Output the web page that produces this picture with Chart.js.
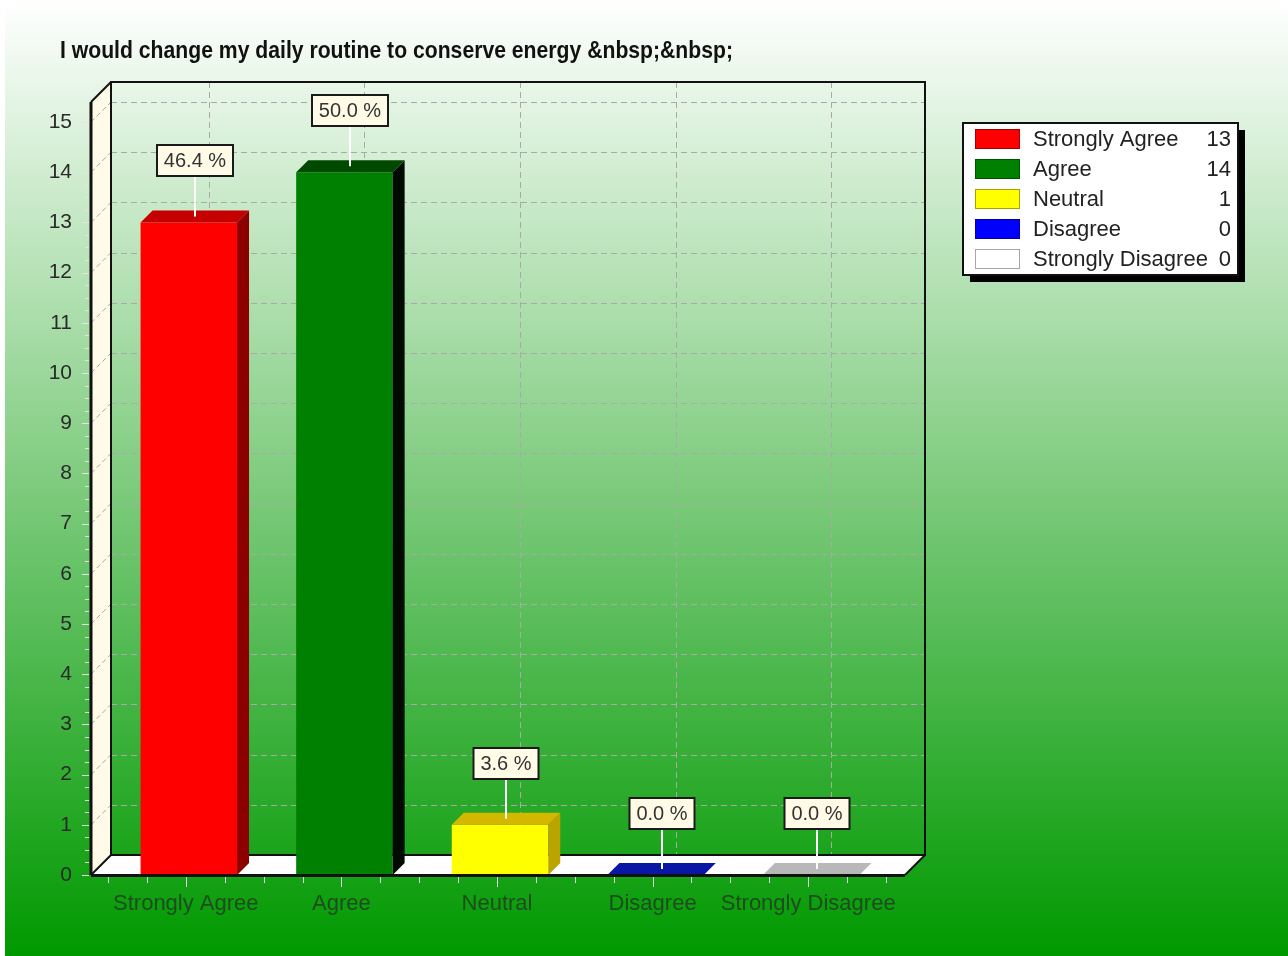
<!DOCTYPE html>
<html>
<head>
<meta charset="utf-8">
<title>Daily routine survey</title>
<script src="https://cdn.jsdelivr.net/npm/chart.js@4.4.1/dist/chart.umd.min.js"></script>
<style>
  html, body { margin: 0; padding: 0; background: #fff; }
  #wrap { width: 1288px; height: 956px; }
</style>
</head>
<body>
<div id="wrap"><canvas id="chart" width="1288" height="956"></canvas></div>
<script>
const chartTitle = "I would change my daily routine to conserve energy &nbsp;&nbsp;";
const answers = ["Strongly Agree", "Agree", "Neutral", "Disagree", "Strongly Disagree"];
const counts = [13, 14, 1, 0, 0];
const yMax = 15;

// bar colours: front face, top face, right side face
const faceColors = ["#ff0000", "#008000", "#ffff00", "#0000ff", "#ffffff"];
const topColors = ["#c40000", "#004a00", "#d4b800", "#0a16a4", "#b8b8b8"];
const sideColors = ["#8c0000", "#000a00", "#bca400", "#00007a", "#9a9a9a"];

const FONT = "'Liberation Sans', Arial, sans-serif";
const WALL = 20;        // depth of the walls/floor
const BAR_DEPTH = 12;   // depth of each bar
const PAD_LEFT = 20;    // floor overhang left of the first category
const PAD_RIGHT = 16;   // floor overhang right of the last category

const el = (id) => document.getElementById(id);
const total = counts.reduce((a, b) => a + b, 0);
const pct = (v) => `${((v / total) * 100).toFixed(1)} %`;

function poly(ctx, pts, fill, stroke, lw = 1) {
  ctx.beginPath();
  pts.forEach(([px, py], i) => (i ? ctx.lineTo(px, py) : ctx.moveTo(px, py)));
  ctx.closePath();
  if (fill) { ctx.fillStyle = fill; ctx.fill(); }
  if (stroke) { ctx.strokeStyle = stroke; ctx.lineWidth = lw; ctx.stroke(); }
}

function line(ctx, x1, y1, x2, y2) {
  ctx.beginPath();
  ctx.moveTo(x1, y1);
  ctx.lineTo(x2, y2);
  ctx.stroke();
}

function box3d(chart) {
  const { chartArea: a, scales: { y } } = chart;
  const fl = a.left - PAD_LEFT, fr = a.right + PAD_RIGHT, fb = a.bottom;
  const ft = y.getPixelForValue(yMax) - WALL;
  return { fl, fr, fb, ft, bl: fl + WALL, br: fr + WALL, bb: fb - WALL, bt: ft - WALL };
}

const scene3d = {
  id: "scene3d",
  beforeDraw(chart) {
    const { ctx, width, height } = chart;
    ctx.save();
    const g = ctx.createLinearGradient(0, 0, 0, height);
    g.addColorStop(0, "#ffffff");
    g.addColorStop(1, "#009900");
    ctx.fillStyle = g;
    ctx.fillRect(0, 0, width, height);
    ctx.fillStyle = "#ffffff";
    ctx.fillRect(0, 0, 5, height);

    ctx.font = `bold 24px ${FONT}`;
    ctx.fillStyle = "#111";
    ctx.textAlign = "left";
    ctx.textBaseline = "alphabetic";
    ctx.fillText(chartTitle, 60, 58, 673);
    ctx.restore();
  },

  beforeDatasetsDraw(chart) {
    const { ctx, scales: { x, y } } = chart;
    const b = box3d(chart);
    ctx.save();

    // dashed grid on the back wall
    ctx.strokeStyle = "#a9a9a9";
    ctx.lineWidth = 1;
    ctx.setLineDash([6, 4]);
    for (let v = 0; v <= yMax; v++) {
      const yy = Math.round(y.getPixelForValue(v) - WALL) + 0.5;
      line(ctx, b.bl, yy, b.br, yy);
    }
    answers.forEach((_, i) => {
      const xx = Math.round(x.getPixelForValue(i) + WALL) + 0.5;
      line(ctx, xx, b.bt, xx, b.bb);
    });
    ctx.setLineDash([]);

    // left wall
    poly(ctx, [[b.fl, b.fb], [b.fl, b.ft], [b.bl, b.bt], [b.bl, b.bb]], "#fffbe8");
    ctx.strokeStyle = "#a9a9a9";
    ctx.setLineDash([5, 3]);
    for (let v = 0; v <= yMax; v++) {
      const yy = y.getPixelForValue(v);
      line(ctx, b.fl, yy, b.bl, yy - WALL);
    }
    ctx.setLineDash([]);

    // floor
    poly(ctx, [[b.fl, b.fb], [b.bl, b.bb], [b.br, b.bb], [b.fr, b.fb]], "#ffffff");

    // wall outlines
    ctx.strokeStyle = "#111";
    ctx.lineWidth = 2;
    ctx.strokeRect(b.bl, b.bt, b.br - b.bl, b.bb - b.bt);
    line(ctx, b.fl, b.ft, b.bl, b.bt);
    line(ctx, b.fr, b.fb, b.br, b.bb);
    line(ctx, b.fl, b.fb, b.bl, b.bb);
    ctx.lineWidth = 3;
    line(ctx, b.fl, b.ft, b.fl, b.fb);

    // tick marks on the value axis
    ctx.strokeStyle = "#e4e4e4";
    ctx.lineWidth = 1;
    for (let v = 0; v <= yMax; v += 0.25) {
      const yy = Math.round(y.getPixelForValue(v)) + 0.5;
      const len = Number.isInteger(v) ? 7 : 4;
      line(ctx, b.fl - 2 - len, yy, b.fl - 2, yy);
    }
    ctx.restore();
  },

  afterDatasetsDraw(chart) {
    const { ctx, scales: { x } } = chart;
    const b = box3d(chart);
    const bars = chart.getDatasetMeta(0).data;
    ctx.save();

    bars.forEach((bar, i) => {
      const { x: cx, y: top, base, width } = bar.getProps(["x", "y", "base", "width"], true);
      const l = cx - width / 2, r = cx + width / 2, d = BAR_DEPTH;
      if (base - top > 0.5) {
        poly(ctx, [[r, top], [r + d, top - d], [r + d, base - d], [r, base]], sideColors[i]);
      }
      poly(ctx, [[l, top], [l + d, top - d], [r + d, top - d], [r, top]], topColors[i]);
    });

    // front edge of the floor
    ctx.strokeStyle = "#111";
    ctx.lineWidth = 3;
    line(ctx, b.fl, b.fb + 0.5, b.fr, b.fb + 0.5);

    // tick marks under the category axis
    ctx.strokeStyle = "#e4e4e4";
    ctx.lineWidth = 1;
    const step = (x.getPixelForValue(1) - x.getPixelForValue(0)) / 4;
    for (let k = -2; k <= answers.length * 4 - 2; k++) {
      const xx = Math.round(x.getPixelForValue(0) - 3 + k * step) + 0.5;
      if (xx < b.fl || xx > b.fr) continue;
      const len = k % 4 === 0 ? 10 : 6;
      line(ctx, xx, b.fb + 2, xx, b.fb + 2 + len);
    }

    // percentage call-outs
    ctx.font = `20px ${FONT}`;
    ctx.textAlign = "center";
    ctx.textBaseline = "middle";
    bars.forEach((bar, i) => {
      const { x: cx, y: top } = bar.getProps(["x", "y"], true);
      const text = pct(counts[i]);
      const w = Math.round(ctx.measureText(text).width + 14), h = 31;
      const mx = Math.round(cx + BAR_DEPTH / 2);
      const by = Math.round(top - 46);
      ctx.strokeStyle = "#ffffff";
      ctx.lineWidth = 2;
      line(ctx, mx, by, mx, top - BAR_DEPTH / 2);
      ctx.fillStyle = "#fffbe6";
      ctx.fillRect(mx - w / 2, by - h, w, h);
      ctx.strokeStyle = "#1a1a1a";
      ctx.strokeRect(mx - w / 2, by - h, w, h);
      ctx.fillStyle = "#333";
      ctx.fillText(text, mx, by - h / 2 + 1);
    });

    // legend with counts
    const lx = 963, ly = 123, lw = 275, lh = 152, row = 30;
    ctx.fillStyle = "#000";
    ctx.fillRect(lx + 7, ly + 7, lw, lh);
    ctx.fillStyle = "#fff";
    ctx.fillRect(lx, ly, lw, lh);
    ctx.strokeStyle = "#111";
    ctx.lineWidth = 2;
    ctx.strokeRect(lx, ly, lw, lh);
    ctx.font = `22px ${FONT}`;
    ctx.textBaseline = "middle";
    answers.forEach((name, i) => {
      const cy = ly + 16 + i * row;
      ctx.fillStyle = faceColors[i];
      ctx.fillRect(lx + 12, cy - 10, 45, 20);
      ctx.strokeStyle = "rgba(0,0,0,0.35)";
      ctx.lineWidth = 1;
      ctx.strokeRect(lx + 12.5, cy - 9.5, 44, 19);
      ctx.fillStyle = "#222";
      ctx.textAlign = "left";
      ctx.fillText(name, lx + 70, cy + 1, 178);
      ctx.textAlign = "right";
      ctx.fillText(String(counts[i]), lx + lw - 7, cy + 1);
    });
    ctx.restore();
  },
};

new Chart(el("chart"), {
  type: "bar",
  data: {
    labels: answers,
    datasets: [{
      data: counts,
      backgroundColor: faceColors,
      borderWidth: 0,
      barPercentage: 0.62,
      categoryPercentage: 1,
    }],
  },
  options: {
    responsive: false,
    animation: false,
    layout: { padding: { top: 122, right: 399, left: 0, bottom: 0 } },
    plugins: { legend: { display: false }, tooltip: { enabled: false } },
    scales: {
      x: {
        offset: true,
        grid: { display: false, drawTicks: false },
        border: { display: false },
        ticks: { color: "#1d4d1d", font: { size: 22, family: FONT }, padding: 16, autoSkip: false, maxRotation: 0, labelOffset: -3 },
        afterFit: (s) => { s.height = 81; },
      },
      y: {
        min: 0,
        max: yMax,
        grid: { display: false, drawTicks: false },
        border: { display: false },
        ticks: { stepSize: 1, color: "#2a2a2a", font: { size: 21, family: FONT }, padding: 39 },
        afterFit: (s) => { s.width = 111; },
      },
    },
  },
  plugins: [scene3d],
});
</script>
</body>
</html>
